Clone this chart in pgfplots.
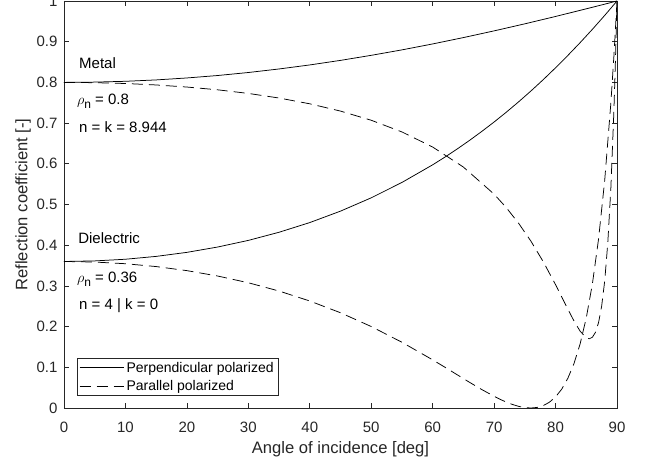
\documentclass[border=0pt]{standalone}
\usepackage{fontspec}
\setmainfont{Liberation Sans}
\usepackage{pgfplots}
\pgfplotsset{compat=1.18}
\definecolor{axgray}{RGB}{38,38,38}
\pgfplotstableread{
x y
0 0.8000
5 0.8007
10 0.8027
15 0.8061
20 0.8109
25 0.8169
30 0.8243
35 0.8330
40 0.8429
45 0.8541
50 0.8665
55 0.8799
60 0.8945
65 0.9101
70 0.9266
75 0.9439
80 0.9620
85 0.9808
87 0.9884
89 0.9961
90 1.0000
}\metalperp
\pgfplotstableread{
x y
0 0.8000
5 0.7993
10 0.7973
15 0.7937
20 0.7886
25 0.7818
30 0.7729
35 0.7616
40 0.7474
45 0.7295
50 0.7070
55 0.6783
60 0.6412
65 0.5920
70 0.5254
72 0.4920
74 0.4536
76 0.4097
78 0.3594
80 0.3030
81 0.2731
82 0.2429
83 0.2138
84 0.1887
85 0.1724
85.5 0.1701
86 0.1739
86.5 0.1861
87 0.2099
87.5 0.2500
88 0.3122
88.5 0.4052
89 0.5401
89.5 0.7320
89.75 0.8552
90 1.0000
}\metalpar
\pgfplotstableread{
x y
0 0.3600
5 0.3614
10 0.3655
15 0.3725
20 0.3824
25 0.3955
30 0.4118
35 0.4318
40 0.4556
45 0.4837
50 0.5164
55 0.5542
60 0.5975
62 0.6165
64 0.6365
66 0.6575
68 0.6796
70 0.7027
72 0.7270
74 0.7524
76 0.7790
78 0.8068
80 0.8359
82 0.8662
84 0.8977
86 0.9305
88 0.9646
90 1.0000
}\dielperp
\pgfplotstableread{
x y
0 0.3600
5 0.3586
10 0.3545
15 0.3475
20 0.3375
25 0.3243
30 0.3077
35 0.2874
40 0.2629
45 0.2340
50 0.2002
55 0.1615
60 0.1183
62 0.1001
64 0.0816
66 0.0631
68 0.0453
70 0.0287
71 0.0211
72 0.0144
73 0.0086
74 0.0040
75 0.0010
76 0.0000
77 0.0014
78 0.0059
79 0.0142
80 0.0272
81 0.0463
82 0.0730
83 0.1092
84 0.1576
85 0.2215
86 0.3054
87 0.4154
88 0.5595
89 0.7491
89.5 0.8657
90 1.0000
}\dielpar
\begin{document}
\begin{tikzpicture}
\begin{axis}[
  scale only axis,
  width=553bp, height=407bp,
  xmin=0, xmax=90, ymin=0, ymax=1,
  xtick={0,10,20,30,40,50,60,70,80,90},
  xticklabels={0,10,20,30,40,50,60,70,80,90},
  ytick={0,0.1,0.2,0.3,0.4,0.5,0.6,0.7,0.8,0.9,1},
  yticklabels={0,0.1,0.2,0.3,0.4,0.5,0.6,0.7,0.8,0.9,1},
  tick align=inside,
  major tick length=5bp,
  axis line style={axgray, line width=0.6bp},
  every tick/.style={axgray, line width=0.6bp},
  ticklabel style={font=\fontsize{15bp}{18bp}\selectfont, text=axgray},
  yticklabel style={xshift=-3bp},
  xticklabel style={yshift=-11bp},
  label style={font=\fontsize{16.6bp}{19bp}\selectfont, text=axgray},
  xlabel={Angle of incidence [deg]},
  ylabel={Reflection coefficient [-]},
  xlabel style={yshift=-1bp},
  ylabel style={yshift=-1bp},
  legend cell align=left,
  legend style={at={(0.0235,0.0295)}, anchor=south west,
    draw=axgray, line width=0.6bp,
    font=\fontsize{14bp}{16bp}\selectfont, text=black,
    inner xsep=2bp, inner ysep=1.5bp, row sep=1.5bp,
    nodes={inner sep=2.5bp}},
  legend image code/.code={\draw[#1] (0bp,0bp) -- (44bp,0bp);},
  every axis plot/.append style={line width=0.75bp, black},
]
\addplot[solid] table {\metalperp};
\addlegendentry{Perpendicular polarized}
\addplot[dash pattern=on 11bp off 6bp] table {\metalpar};
\addlegendentry{Parallel polarized}
\addplot[solid, forget plot] table {\dielperp};
\addplot[dash pattern=on 11bp off 6bp, forget plot] table {\dielpar};
\node[anchor=base west, font=\fontsize{15bp}{18bp}\selectfont, inner sep=0pt] at (axis cs:2.44,0.833) {Metal};
\node[anchor=base west, font=\fontsize{15bp}{18bp}\selectfont, inner sep=0pt] at (axis cs:2.1,0.745) {$\rho$\raisebox{-4bp}{\fontsize{12bp}{14bp}\selectfont n} = 0.8};
\node[anchor=base west, font=\fontsize{15bp}{18bp}\selectfont, inner sep=0pt] at (axis cs:2.44,0.676) {n = k = 8.944};
\node[anchor=base west, font=\fontsize{15bp}{18bp}\selectfont, inner sep=0pt] at (axis cs:2.3,0.403) {Dielectric};
\node[anchor=base west, font=\fontsize{15bp}{18bp}\selectfont, inner sep=0pt] at (axis cs:2.1,0.308) {$\rho$\raisebox{-4bp}{\fontsize{12bp}{14bp}\selectfont n} = 0.36};
\node[anchor=base west, font=\fontsize{15bp}{18bp}\selectfont, inner sep=0pt] at (axis cs:2.44,0.243) {n = 4 | k = 0};
\end{axis}
\pgfresetboundingbox
\useasboundingbox ([shift={(-64bp,-57bp)}]current axis.south west) rectangle ([shift={(29bp,1bp)}]current axis.north east);
\end{tikzpicture}
\end{document}
